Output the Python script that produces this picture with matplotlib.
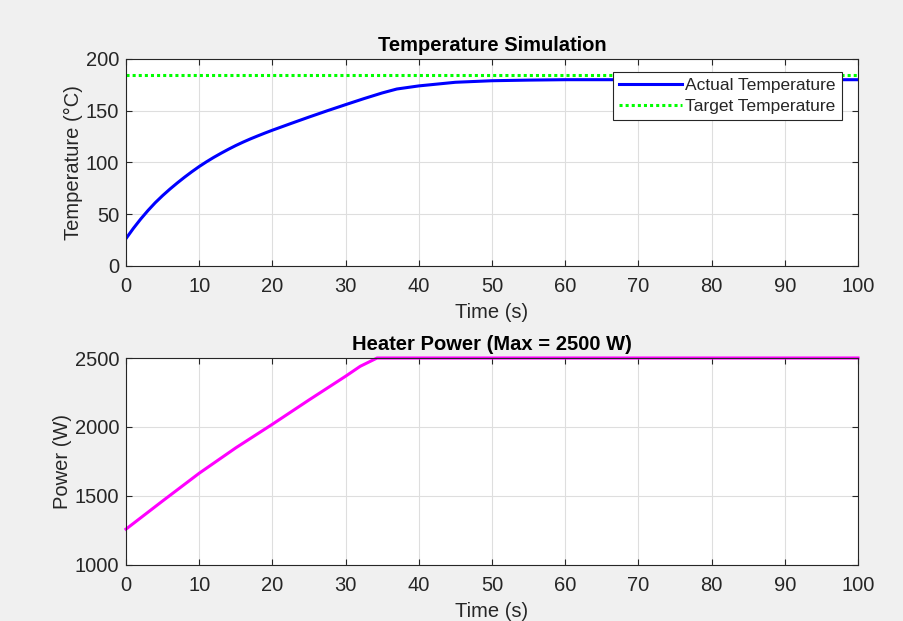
"""
Heater temperature simulation, redrawn from a MATLAB figure.
"""

import matplotlib.pyplot as plt

# readings from the reference figure
time_s = [0, 1, 2, 3, 4, 5, 6, 7, 8, 9, 10, 11, 12, 13, 14, 15, 16, 17, 18,
          19, 20, 22.5, 25, 27.5, 30, 32.5, 35, 37, 40, 45, 50, 55, 60, 70,
          80, 90, 100]
temp_c = [26.5, 36.3, 45.3, 53.6, 61.2, 68, 74.3, 80.2, 85.8, 91.1, 96.1,
          100.7, 105, 109, 112.8, 116.4, 119.7, 122.8, 125.7, 128.5, 131.2,
          137.6, 143.9, 150, 155.9, 161.7, 167.2, 171, 174, 177.5, 179,
          179.6, 180, 180, 180, 180, 180]
target_c = 185

power_t = [0, 5, 10, 15, 20, 25, 30, 32, 34.3, 100]
power_w = [1260, 1464, 1665, 1849, 2020, 2196, 2368, 2440, 2500, 2500]
power_max = 2500

plt.rcParams["font.family"] = ["Liberation Sans", "DejaVu Sans"]

fig = plt.figure(figsize=(9.04, 6.21), dpi=100, facecolor="#f0f0f0")
ax1 = fig.add_axes([0.1394, 0.5717, 0.8097, 0.3333])
ax2 = fig.add_axes([0.1394, 0.0902, 0.8097, 0.3333])

ink = "#262626"
fs = 14.5
for ax in (ax1, ax2):
    ax.set_facecolor("white")
    ax.grid(True, color="#dedede", linewidth=0.8)
    ax.set_axisbelow(True)
    ax.tick_params(direction="in", length=4, top=True, right=True,
                   colors=ink, labelsize=fs)
    ax.tick_params(axis="x", pad=8)
    ax.tick_params(axis="y", pad=5)
    for s in ax.spines.values():
        s.set_color(ink)
        s.set_linewidth(0.8)
    ax.set_xlim(0, 100)
    ax.set_xticks(range(0, 101, 10))
    ax.set_xlabel("Time (s)", color=ink, fontsize=fs, labelpad=5)

ax1.plot(time_s, temp_c, color="#0000ff", linewidth=2.2, label="Actual Temperature")
ax1.axhline(target_c, color="#00ff00", linewidth=2.2, linestyle=(0, (1, 1)),
            label="Target Temperature")
ax1.set_ylim(0, 200)
ax1.set_yticks(range(0, 201, 50))
ax1.set_ylabel("Temperature (°C)", color=ink, fontsize=fs, labelpad=2)
ax1.set_title("Temperature Simulation", fontsize=fs, fontweight="bold", pad=6)
leg = ax1.legend(loc="upper right", bbox_to_anchor=(0.978, 0.937), fontsize=12.5,
                 handlelength=3.6, frameon=True, fancybox=False, framealpha=1,
                 borderpad=0.35, labelspacing=0.3, handletextpad=0.2,
                 borderaxespad=0, labelcolor=ink)
leg.get_frame().set_edgecolor(ink)
leg.get_frame().set_linewidth(0.8)

ax2.plot(power_t, power_w, color="#ff00ff", linewidth=2.2, clip_on=False)
ax2.set_ylim(1000, 2500)
ax2.set_yticks(range(1000, 2501, 500))
ax2.set_ylabel("Power (W)", color=ink, fontsize=fs, labelpad=2)
ax2.set_title(f"Heater Power (Max = {power_max} W)", fontsize=fs,
              fontweight="bold", pad=6)

fig.savefig("out.png", dpi=100, facecolor=fig.get_facecolor())
